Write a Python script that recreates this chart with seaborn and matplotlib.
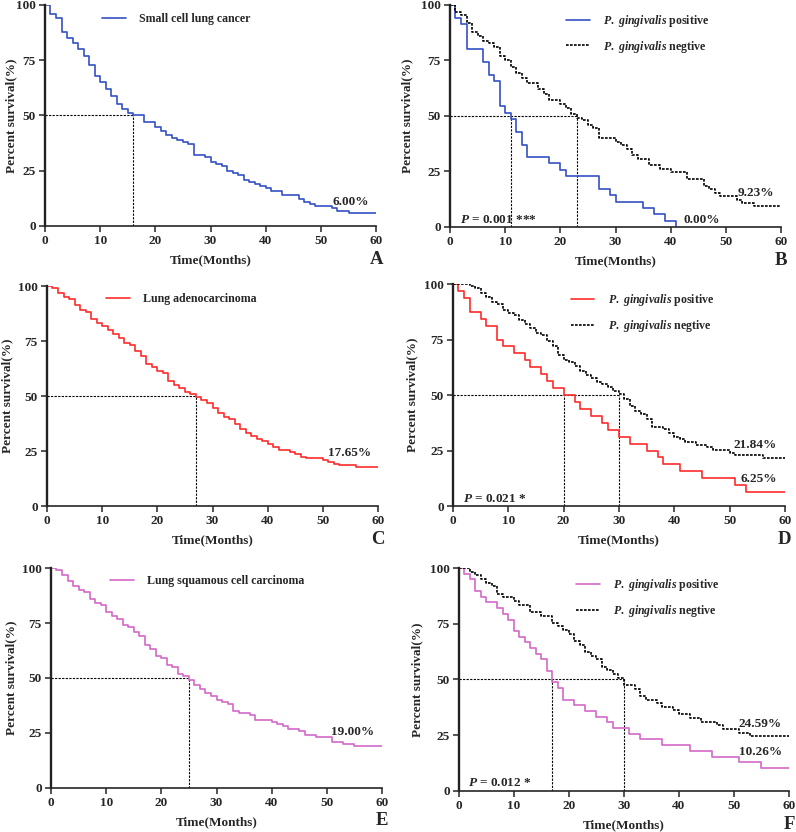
import matplotlib
matplotlib.use("Agg")
import matplotlib.pyplot as plt
import pandas as pd
import seaborn as sns

# Kaplan-Meier 곡선 값 (시간: 월, 생존율: %) — 그림에서 읽은 값
A_T = [0, 1, 2, 3, 4, 5, 6, 7, 8, 9, 10, 11, 12, 13, 14, 15, 16, 18, 20, 21, 22, 23, 24, 25, 26, 27,
       29, 30, 31, 32, 33, 34, 35, 36, 37, 38, 39, 40, 41, 43, 46, 47, 48, 49, 52, 53, 55, 60]
A_S = [100, 96, 94, 88, 85, 83, 80, 77, 73, 68, 65, 62, 59, 55, 53, 51, 50, 47, 45, 43, 41, 40, 39, 38, 37, 32,
       31, 29, 28, 27, 25, 24, 23, 21, 20, 19, 18, 17, 16, 14, 12, 11, 10, 9, 8, 7, 6, 6]

B_POS_T = [0, 1, 2, 3, 6, 7, 8, 9, 10, 11, 12, 13, 14, 18, 20, 21, 27, 29, 30, 35, 37, 39, 41]
B_POS_S = [100, 94.3, 91.4, 80, 74.3, 68.6, 65.7, 54.3, 51.4, 48.6, 42.9, 37.1, 31.4, 28.6, 25.7, 22.9,
           17.1, 14.3, 11.4, 8.6, 5.7, 2.9, 0]
B_NEG_T = [0, 1, 2, 3, 4, 5, 6, 7, 8, 9, 10, 11, 12, 13, 14, 16, 17, 18, 20, 21, 22, 23, 24, 25, 26, 27,
           30, 31, 32, 33, 34, 36, 38, 40, 43, 46, 47, 48, 49, 52, 53, 55, 60]
B_NEG_S = [100, 97, 95.5, 92, 88, 86, 84, 83, 81, 77, 75, 72, 69.5, 67, 65, 62, 60, 57, 55.5, 53.5, 51, 49,
           48, 46, 44.5, 40, 38.5, 36.9, 35, 32.3, 30.8, 27.7, 26.2, 24.6, 21.5, 18.5, 17, 15.4, 13.8, 12.3,
           10.8, 9.23, 9.23]

C_T = [0, 1, 2, 3, 4, 5, 6, 7, 8, 9, 10, 11, 12, 13, 14, 15, 16, 17, 18, 19, 20, 21, 22, 23, 24, 25, 26,
       27, 28, 29, 30, 31, 32, 33, 34, 35, 36, 37, 38, 39, 40, 41, 42, 44, 45, 46, 47, 50, 51, 52, 53, 56, 60]
C_S = [100, 99, 97, 95, 94, 91.5, 89, 88, 85, 83, 82, 80, 78, 76.5, 74, 73, 70.5, 68, 64.5, 63, 61.5, 60.5,
       57, 55, 53.5, 52, 51, 49.5, 48, 47, 44.5, 42.5, 40.5, 39.5, 37.5, 35, 33, 32, 30.5, 29.5, 28, 27, 25.5,
       24.5, 23.5, 22.5, 22, 21, 20, 19, 18.5, 17.65, 17.65]

D_POS_T = [0, 1, 2, 3, 5, 6, 8, 9, 11, 13, 14, 16, 17, 18, 20, 22, 23, 25, 27, 28, 30, 32, 35, 37, 38, 41,
           45, 51, 53, 60]
D_POS_S = [100, 96.9, 93.8, 87.5, 84.4, 81.3, 75, 71.9, 68.8, 65.6, 62.5, 59.4, 56.3, 53.1, 50, 46.9, 43.8,
           40.6, 37.5, 34.4, 31.3, 28.1, 25, 21.9, 18.8, 15.6, 12.5, 9.4, 6.25, 6.25]
D_NEG_T = [0, 3, 4, 5, 6, 7, 8, 9, 10, 11, 12, 13, 14, 15, 16, 17, 18, 19, 20, 21, 22, 23, 24, 25, 26, 27,
           28, 29, 30, 31, 32, 33, 34, 35, 36, 38, 39, 40, 41, 42, 44, 46, 47, 50, 51, 56, 60]
D_NEG_S = [100, 99, 98, 96, 94, 92, 91, 88.5, 87, 86, 84, 82, 80, 78, 77, 74.5, 72, 68, 66, 65, 63, 61, 59,
           57.5, 56, 55, 53.5, 52, 50.5, 48, 45, 43, 41.5, 39, 35.5, 34.5, 33, 31, 30, 28.7, 27.6, 26.4, 25.3,
           24.1, 23, 21.84, 21.84]

E_T = [0, 1, 2, 3, 4, 5, 6, 7, 8, 9, 10, 11, 12, 13, 14, 15, 16, 17, 18, 19, 20, 21, 22, 23, 24, 25, 26,
       27, 28, 29, 30, 31, 32, 33, 34, 36, 37, 40, 41, 42, 43, 45, 46, 48, 51, 53, 55, 60]
E_S = [100, 99, 97, 94, 92, 90, 89, 86, 84, 83, 80, 78, 77, 74, 73, 71, 69, 65, 63, 60, 59, 56, 55, 52, 51,
       49, 47, 45, 43, 42, 40, 39, 38, 35, 34, 33, 31, 30, 29, 28, 27, 26, 24, 23, 21, 20, 19, 19]

F_POS_T = [0, 1, 2, 3, 4, 5, 7, 8, 9, 10, 11, 12, 13, 14, 15, 16, 17, 18, 19, 21, 23, 25, 27, 28, 31, 33,
           37, 42, 46, 51, 55, 60]
F_POS_S = [100, 97.4, 94.9, 89.7, 87.2, 84.6, 82.1, 79.5, 76.9, 71.8, 69.2, 66.7, 64.1, 61.5, 59, 53.8, 48.7,
           46.2, 41, 38.5, 35.9, 33.3, 30.8, 28.2, 25.6, 23.1, 20.5, 17.9, 15.4, 12.8, 10.26, 10.26]
F_NEG_T = [0, 2, 3, 4, 5, 6, 7, 8, 10, 11, 13, 15, 17, 18, 19, 20, 21, 22, 23, 24, 25, 26, 27, 28, 29, 30,
           32, 33, 34, 36, 37, 39, 40, 42, 44, 47, 48, 51, 53, 60]
F_NEG_S = [100, 98.4, 96.7, 95.1, 93.4, 91.8, 88.5, 86.9, 85.2, 83.6, 80.3, 78.7, 75.4, 73.8, 72.1, 70.5,
           67.2, 65.6, 62.3, 60.7, 59, 55.7, 54.1, 52.5, 50.8, 47.5, 45.9, 42.6, 41, 39.3, 37.7, 36.1, 34.4,
           32.8, 31.1, 29.5, 27.9, 26.2, 24.59, 24.59]

BLUE, RED, PINK = "#3352c4", "#ff2b2b", "#d468c8"
POS = r"$P.\ gingivalis$ positive"
NEG = r"$P.\ gingivalis$ negtive"

sns.set_style("ticks")
plt.rcParams["font.family"] = ["Liberation Serif", "DejaVu Serif"]
plt.rcParams["font.weight"] = "bold"
plt.rcParams["mathtext.fontset"] = "custom"
plt.rcParams["mathtext.it"] = "Liberation Serif:italic:bold"
plt.rcParams["mathtext.rm"] = "Liberation Serif:bold"

W, H = 796, 832

# 패널 정의: (위치, 곡선들, 중앙생존 선, 주석, 범례 위치, y라벨 간격(px), 문자)
PANELS = [
    ([0.0565, 0.7284, 0.416, 0.2656], [(A_T, A_S, BLUE, "-", "Small cell lung cancer")],
     [16], [(52.1, 11, "6.00%")], (0.157, 0.985), 28, "A"),
    ([0.5653, 0.7272, 0.416, 0.2668], [(B_POS_T, B_POS_S, BLUE, "-", POS), (B_NEG_T, B_NEG_S, "black", ":", NEG)],
     [11, 23], [(52.2, 15.5, "9.23%"), (42.3, 3.2, "0.00%"), (1.8, 3.2, "$P$ = 0.001 ***")], (0.337, 0.985), 37, "B"),
    ([0.0590, 0.3918, 0.416, 0.2644], [(C_T, C_S, RED, "-", "Lung adenocarcinoma")],
     [27], [(51.0, 24.2, "17.65%")], (0.165, 0.99), 34, "C"),
    ([0.5690, 0.3918, 0.417, 0.2668], [(D_POS_T, D_POS_S, RED, "-", POS), (D_NEG_T, D_NEG_S, "black", ":", NEG)],
     [20, 30], [(50.7, 27.5, "21.84%"), (52.0, 12.2, "6.25%"), (1.8, 3.2, "$P$ = 0.021 *")], (0.34, 0.985), 35, "D"),
    ([0.0640, 0.0529, 0.416, 0.2644], [(E_T, E_S, PINK, "-", "Lung squamous cell carcinoma")],
     [25], [(50.8, 25.4, "19.00%")], (0.165, 0.99), 34, "E"),
    ([0.5766, 0.0493, 0.4146, 0.2680], [(F_POS_T, F_POS_S, PINK, "-", POS), (F_NEG_T, F_NEG_S, "black", ":", NEG)],
     [17, 30], [(50.9, 30.1, "24.59%"), (50.9, 17.7, "10.26%"), (1.7, 3.4, "$P$ = 0.012 *")], (0.34, 0.98), 36, "F"),
]

fig = plt.figure(figsize=(W / 100, H / 100), dpi=100)

for rect, curves, medians, notes, leg_pos, ylab_px, letter in PANELS:
    ax = fig.add_axes(rect)
    for t, s, color, ls, label in curves:
        df = pd.DataFrame({"t": t, "s": s})
        sns.lineplot(data=df, x="t", y="s", ax=ax, color=color, estimator=None, sort=False,
                     drawstyle="steps-post", linewidth=1.2,
                     linestyle=(0, (1.6, 0.8)) if ls == ":" else "-", label=label)
    # 중앙 생존기간 점선
    ax.plot([0, max(medians)], [50, 50], color="black", lw=0.8, ls=(0, (2, 1.2)), zorder=1)
    for m in medians:
        ax.plot([m, m], [0, 50], color="black", lw=0.8, ls=(0, (2, 1.2)), zorder=1)
    for x, y, txt in notes:
        ax.text(x, y, txt, fontsize=9.5, va="center", ha="left")

    ax.set_xlim(0, 60)
    ax.set_ylim(0, 100)
    ax.set_xticks(range(0, 61, 10))
    ax.set_yticks([0, 25, 50, 75, 100])
    ax.tick_params(labelsize=9.5, width=1.1, length=4, pad=2.5, direction="out")
    ax.set_xlabel("Time(Months)", fontsize=9.5, fontweight="bold", labelpad=5)
    ax.set_ylabel("Percent survival(%)", fontsize=9.5, fontweight="bold")
    ax.yaxis.set_label_coords(-ylab_px / (rect[2] * W), 0.5)
    sns.despine(ax=ax)
    ax.spines["left"].set_linewidth(1.7)
    ax.spines["bottom"].set_linewidth(1.2)
    ax.spines["left"].set_color("#222222")
    ax.legend(loc="upper left", bbox_to_anchor=leg_pos, frameon=False, fontsize=8.6,
              handlelength=2.0, handletextpad=1.1, labelspacing=0.8, borderaxespad=0)
    ax.text(1.0, -0.15, letter, transform=ax.transAxes, fontsize=13.5, fontweight="bold",
            ha="center", va="center")

fig.savefig("out.png", dpi=100)
